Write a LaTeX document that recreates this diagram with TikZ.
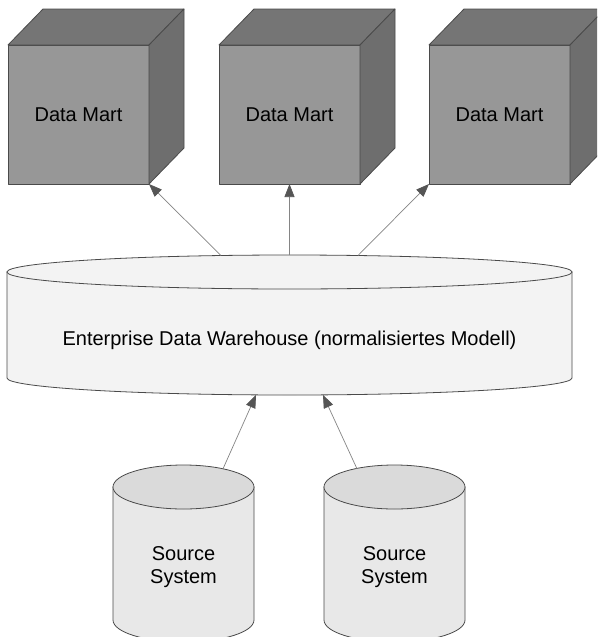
\documentclass[tikz,border=0pt]{standalone}
\usepackage{fontspec}
\setmainfont{Liberation Sans}
\usetikzlibrary{arrows.meta}
\definecolor{cubefront}{HTML}{979797}
\definecolor{cubetop}{HTML}{757575}
\definecolor{cubeside}{HTML}{6E6E6E}
\definecolor{edwfill}{HTML}{F3F3F3}
\definecolor{srcbody}{HTML}{E8E8E8}
\definecolor{srctop}{HTML}{DADADA}
\definecolor{outline}{HTML}{4A4A4A}
\definecolor{arrline}{HTML}{858585}
\definecolor{arrhead}{HTML}{555555}
\begin{document}
\begin{tikzpicture}[x=1pt,y=-1pt,
  txt/.style={font=\fontsize{20}{23}\selectfont, text=black, align=center},
  cubeface/.style={draw=outline, line width=0.8pt, line join=round},
  frontface/.style={cubeface, fill=cubefront, minimum width=141pt, minimum height=139pt, inner sep=0pt, outer sep=0pt, txt},
  shapeline/.style={draw=outline, line width=0.8pt},
  flow/.style={draw=arrline, line width=0.7pt, -{Triangle[length=13pt,width=10pt,color=arrhead]}}
]
\useasboundingbox (0,0) rectangle (597,637);
\clip (0,0) rectangle (597,637);
\fill[white] (0,0) rectangle (597,637);

% ---------- Data Mart cubes ----------
\foreach \n/\cx in {dm1/78.5, dm2/289.5, dm3/499.5}{
  \node[frontface] (\n) at (\cx,114.5) {Data Mart};
  \path[cubeface, fill=cubetop] (\n.north west) -- ++(35,-36) -- ++(141,0) -- (\n.north east) -- cycle;
  \path[cubeface, fill=cubeside] (\n.north east) -- ++(35,-36) -- ++(0,139) -- (\n.south east) -- cycle;
}

% ---------- Enterprise Data Warehouse cylinder ----------
% cx=289.5 rx=282.5 ; top cy=272 ; bottom cy=378 ; ry=17
\path[shapeline, fill=edwfill]
  (7,272) -- (7,378)
  .. controls (7,387.39) and (133.48,395) .. (289.5,395)
  .. controls (445.52,395) and (572,387.39) .. (572,378)
  -- (572,272) -- cycle;
\path[shapeline, fill=edwfill] (289.5,272) ellipse [x radius=282.5, y radius=17];
\node[txt] (edw) at (289.5,340) {Enterprise Data Warehouse (normalisiertes Modell)};

% ---------- Source System cylinders ----------
\foreach \n/\cx in {src1/183.5, src2/394.5}{
  \path[shapeline, fill=srcbody]
    (\cx-70.5,487) -- (\cx-70.5,620)
    .. controls (\cx-70.5,632.15) and (\cx-38.94,642) .. (\cx,642)
    .. controls (\cx+38.94,642) and (\cx+70.5,632.15) .. (\cx+70.5,620)
    -- (\cx+70.5,487) -- cycle;
  \path[shapeline, fill=srctop] (\cx,487) ellipse [x radius=70.5, y radius=22];
  \node[txt] (\n) at (\cx,567) {Source\\System};
}

% ---------- connector end points on the shapes ----------
\coordinate (edwtopL) at (221,255.5);
\coordinate (edwtopM) at (289.5,255);
\coordinate (edwtopR) at (358,255.5);
\coordinate (edwbotL) at (256,394.9);
\coordinate (edwbotR) at (323,394.9);
\coordinate (src1top) at (223,468.8);
\coordinate (src2top) at (357,468.8);

% ---------- connectors ----------
\draw[flow] (edwtopL) -- (dm1.south east);
\draw[flow] (edwtopM) -- (dm2.south);
\draw[flow] (edwtopR) -- (dm3.south west);
\draw[flow] (src1top) -- (edwbotL);
\draw[flow] (src2top) -- (edwbotR);
\end{tikzpicture}
\end{document}
